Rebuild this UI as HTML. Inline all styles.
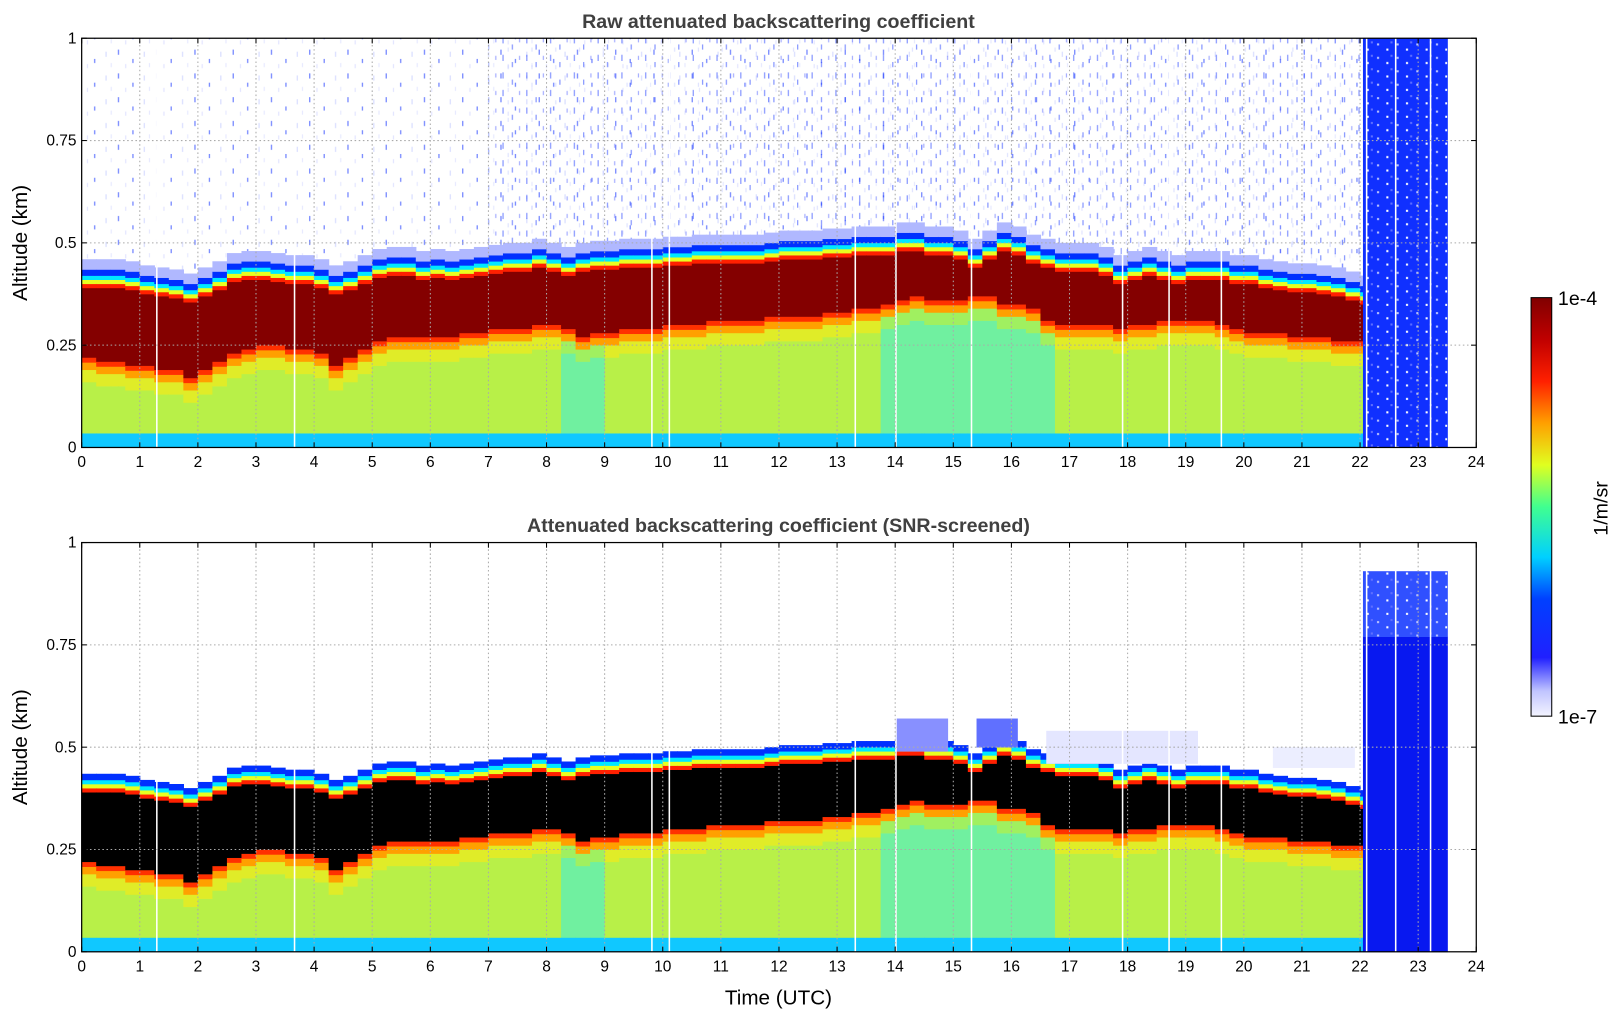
<!DOCTYPE html>
<html><head><meta charset="utf-8">
<style>
body{margin:0;background:#fff;}
svg{display:block;font-family:"Liberation Sans",sans-serif;}
</style></head>
<body>
<svg id="chart" width="1621" height="1020" viewBox="0 0 1568 987" preserveAspectRatio="none">
<defs>
<pattern id="noise" width="37" height="23" patternUnits="userSpaceOnUse">
<rect x="3" y="2" width="1.2" height="5" fill="#1030ff"/>
<rect x="17" y="11" width="1.2" height="4" fill="#1030ff"/>
<rect x="28" y="4" width="1.2" height="5" fill="#c0c8ff"/>
<rect x="10" y="16" width="1.2" height="4" fill="#d0d4ff"/>
<rect x="33" y="15" width="1.2" height="4" fill="#d8dcff"/>
</pattern>
<pattern id="noise2" width="23" height="17" patternUnits="userSpaceOnUse">
<rect x="3" y="2" width="1.2" height="6" fill="#1030ff"/>
<rect x="12" y="9" width="1.2" height="5" fill="#1030ff"/>
<rect x="19" y="3" width="1.2" height="4" fill="#5060ff"/>
<rect x="8" y="12" width="1.2" height="4" fill="#c0c8ff"/>
</pattern>
<pattern id="holes" width="19" height="13" patternUnits="userSpaceOnUse">
<rect x="2" y="3" width="2" height="2" fill="#c0c8ff"/>
<rect x="11" y="8" width="2" height="2" fill="#fff"/>
<rect x="15" y="1" width="2" height="2" fill="#6070ff"/>
</pattern>
<linearGradient id="cbar" x1="0" y1="1" x2="0" y2="0">
<stop offset="0" stop-color="#f4f4ff"/>
<stop offset="0.06" stop-color="#c0c4ff"/>
<stop offset="0.14" stop-color="#2020ff"/>
<stop offset="0.28" stop-color="#0040ff"/>
<stop offset="0.38" stop-color="#00d0ff"/>
<stop offset="0.5" stop-color="#40ff90"/>
<stop offset="0.6" stop-color="#e0ff20"/>
<stop offset="0.7" stop-color="#ffa000"/>
<stop offset="0.8" stop-color="#ff2000"/>
<stop offset="0.9" stop-color="#c00000"/>
<stop offset="1" stop-color="#800000"/>
</linearGradient>
</defs>
<g id="plots"></g>
<g>
<rect x="1481" y="288" width="20" height="405" fill="url(#cbar)" stroke="#000" stroke-width="1"/>
<text x="1507" y="295" font-size="19">1e-4</text>
<text x="1507" y="700" font-size="19">1e-7</text>
<text transform="translate(1555,492) rotate(-90)" font-size="19" text-anchor="middle">1/m/sr</text>
</g>
<text x="753" y="972" font-size="20" text-anchor="middle">Time (UTC)</text>
</svg>
<script>
const times=[];for(let i=0;i<=88;i++)times.push(i*0.25);
const layerTops=[0.39,0.39,0.39,0.385,0.375,0.37,0.365,0.355,0.37,0.385,0.405,0.41,0.41,0.405,0.40,0.40,0.39,0.375,0.385,0.40,0.415,0.42,0.42,0.41,0.415,0.41,0.415,0.42,0.425,0.43,0.43,0.44,0.43,0.42,0.43,0.435,0.435,0.44,0.44,0.44,0.445,0.445,0.45,0.45,0.45,0.45,0.45,0.455,0.46,0.46,0.46,0.465,0.465,0.47,0.47,0.47,0.48,0.48,0.47,0.47,0.46,0.44,0.46,0.48,0.47,0.45,0.44,0.43,0.43,0.43,0.42,0.40,0.41,0.42,0.41,0.40,0.41,0.41,0.41,0.40,0.40,0.39,0.385,0.38,0.38,0.375,0.37,0.36,0.35];
const layerBases=[0.22,0.21,0.21,0.20,0.20,0.19,0.19,0.17,0.19,0.21,0.23,0.24,0.25,0.25,0.24,0.24,0.23,0.20,0.22,0.24,0.26,0.27,0.27,0.27,0.27,0.27,0.28,0.28,0.29,0.29,0.29,0.30,0.30,0.29,0.27,0.28,0.28,0.29,0.29,0.29,0.30,0.30,0.30,0.31,0.31,0.31,0.31,0.32,0.32,0.32,0.32,0.33,0.33,0.34,0.34,0.35,0.36,0.37,0.36,0.36,0.36,0.37,0.37,0.35,0.35,0.34,0.31,0.30,0.30,0.30,0.30,0.29,0.30,0.30,0.31,0.31,0.31,0.31,0.30,0.29,0.28,0.28,0.28,0.27,0.27,0.27,0.26,0.26,0.26];
const gapTimes=[1.28,3.65,9.8,10.1,13.3,14.0,15.3,17.9,18.7,19.6,22.1,22.6,23.2];
const xTicks=[0,1,2,3,4,5,6,7,8,9,10,11,12,13,14,15,16,17,18,19,20,21,22,23,24];
const yTicks=[0,0.25,0.5,0.75,1];
const yTickLabels=["0","0.25","0.5","0.75","1"];
const titles=["Raw attenuated backscattering coefficient","Attenuated backscattering coefficient (SNR-screened)"];

const NS="http://www.w3.org/2000/svg";
const X0=79,X1=1428,H=396;
const xs=t=>X0+t*(X1-X0)/24;
function mk(tag,attrs,parent){const e=document.createElementNS(NS,tag);for(const k in attrs)e.setAttribute(k,attrs[k]);parent.appendChild(e);return e;}
const root=document.getElementById('plots');

[433,921].forEach((yb,pi)=>{
  const ys=v=>yb-v*H;
  const g=mk('g',{},root);
  
  
  const cells=mk('g',{},g);
  
  
  if(pi===0){ const r=mk('rect',{x:X0,y:ys(1),width:xs(22.05)-X0,height:H,fill:'url(#noise)',opacity:0.6},cells);
    
    const r2=mk('rect',{x:xs(7),y:ys(1),width:xs(22.05)-xs(7),height:H*0.55,fill:'url(#noise2)',opacity:0.5},cells);
    }
  function band(t0,t1,v0,v1,fill){if(v1<=v0)return;const r=mk('rect',{x:xs(t0),y:ys(v1),width:xs(t1)-xs(t0)+0.6,height:ys(v0)-ys(v1)+0.3,fill:fill},cells);
    }
  times.forEach((t,i)=>{
    const t1=i===times.length-1?22.05:t+0.25;
    const top=layerTops[i],base=layerBases[i];
    const cyanish=(t>=8.25&&t<=8.75)||(t>=13.75&&t<=16.5);
    band(t,t1,0,0.035,'#10c8ff');
    band(t,t1,0.035,base-0.06,cyanish?'#70f0a0':'#b8f048');
    band(t,t1,base-0.06,base-0.03,cyanish?'#a0f060':'#e0ec28');
    band(t,t1,base-0.03,base-0.012,'#ffa000');
    band(t,t1,base-0.012,base,'#ff3000');
    band(t,t1,base,top,pi===0?'#840000':'#000000');
    band(t,t1,top,top+0.01,'#ff2000');
    band(t,t1,top+0.01,top+0.02,'#e8ff20');
    band(t,t1,top+0.02,top+0.03,'#00e8ff');
    band(t,t1,top+0.03,top+0.045,'#0030ff');
    if(pi===0) band(t,t1,top+0.045,top+0.07,'#b0b8ff');
  });
  if(pi===0){
    band(22.05,23.5,0,1,'#1030ff');
    const r=mk('rect',{x:xs(22.05),y:ys(1),width:xs(23.5)-xs(22.05),height:H,fill:'url(#holes)'},cells);
    
  } else {
    band(14.0,14.9,0.49,0.57,'#8890ff');
    band(15.4,16.1,0.50,0.57,'#6070ff');
    band(16.6,19.2,0.46,0.54,'#e4e6ff');
    band(20.5,21.9,0.45,0.50,'#eceeff');
    band(22.05,23.5,0,0.77,'#0818f0');
    band(22.05,23.5,0.77,0.93,'#3050ff');
    const r=mk('rect',{x:xs(22.05),y:ys(0.93),width:xs(23.5)-xs(22.05),height:ys(0.77)-ys(0.93),fill:'url(#holes)'},cells);
    
  }
  gapTimes.forEach(t=>{const l=mk('rect',{x:xs(t),y:ys(1),width:1.5,height:H,fill:'#fff'},cells);
    });
  xTicks.forEach(t=>{if(t>0&&t<24){const l=mk('line',{x1:xs(t),x2:xs(t),y1:ys(0),y2:ys(1),stroke:'#aaa','stroke-dasharray':'1.5,2.5','stroke-width':1},g);
    }});
  yTicks.forEach(v=>{if(v>0&&v<1){const l=mk('line',{x1:X0,x2:X1,y1:ys(v),y2:ys(v),stroke:'#aaa','stroke-dasharray':'1.5,2.5','stroke-width':1},g);
    }});
  const fr=mk('rect',{x:X0,y:ys(1),width:X1-X0,height:H,fill:'none',stroke:'#000','stroke-width':1.2},g);
  
  xTicks.forEach(t=>{
    mk('line',{x1:xs(t),x2:xs(t),y1:ys(0),y2:ys(0)-5,stroke:'#000'},g);
    mk('line',{x1:xs(t),x2:xs(t),y1:ys(1),y2:ys(1)+5,stroke:'#000'},g);
    const tx=mk('text',{x:xs(t),y:ys(0)+19,'font-size':15,'text-anchor':'middle'},g);tx.textContent=t;
    
  });
  yTicks.forEach((v,i)=>{
    mk('line',{x1:X0,x2:X0+5,y1:ys(v),y2:ys(v),stroke:'#000'},g);
    mk('line',{x1:X1,x2:X1-5,y1:ys(v),y2:ys(v),stroke:'#000'},g);
    const tx=mk('text',{x:X0-5,y:ys(v)+5,'font-size':15,'text-anchor':'end'},g);tx.textContent=yTickLabels[i];
    
  });
  const yt=mk('text',{transform:`translate(26,${ys(0.5)}) rotate(-90)`,'font-size':20,'text-anchor':'middle'},g);yt.textContent='Altitude (km)';
  
  const tt=mk('text',{x:753,y:ys(1)-10,'font-size':19,'font-weight':'bold','text-anchor':'middle',fill:'#404040'},g);tt.textContent=titles[pi];
  
});
</script>
</body></html>
